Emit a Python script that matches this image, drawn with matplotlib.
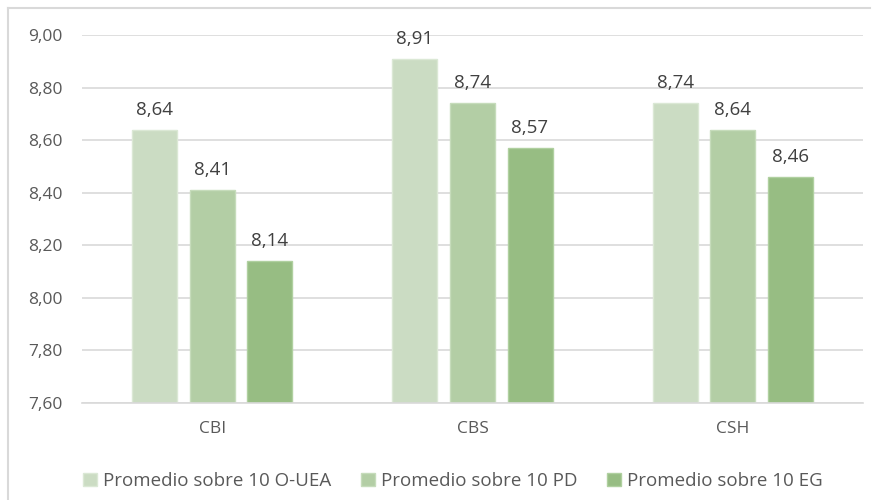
import matplotlib.pyplot as plt
import numpy as np
from matplotlib.lines import Line2D

# Data
categories = ['CBI', 'CBS', 'CSH']
series_names = ['Promedio sobre 10 O-UEA', 'Promedio sobre 10 PD', 'Promedio sobre 10 EG']
o_uea = [8.64, 8.91, 8.74]
pd_vals = [8.41, 8.74, 8.64]
eg = [8.14, 8.57, 8.46]
y_ticks = [7.60, 7.80, 8.00, 8.20, 8.40, 8.60, 8.80, 9.00]

colors = ['#cbdcc3', '#b3cea5', '#97bd83']
edges = ['#dbe8d5', '#c6dcbb', '#b0d0a0']

plt.rcParams['font.family'] = ['Open Sans', 'DejaVu Sans']

fig = plt.figure(figsize=(8.78, 5.0), dpi=100)
ax = fig.add_axes([82 / 878, 1 - 403 / 500, 781 / 878, 368 / 500])

x = np.arange(len(categories))
step = 0.221
width = 0.173
for i, vals in enumerate([o_uea, pd_vals, eg]):
    pos = x + (i - 1) * step
    bars = ax.bar(pos, vals, width, color=colors[i], edgecolor=edges[i],
                  linewidth=1, label=series_names[i], zorder=2)
    for b, v in zip(bars, vals):
        ax.annotate(f'{v:.2f}'.replace('.', ','), (b.get_x() + b.get_width() / 2, v),
                    xytext=(0, 8), textcoords='offset points', ha='center', va='bottom',
                    fontsize=13.5, color='#404040')

ax.set_ylim(7.6, 9.0)
ax.set_xlim(-0.5, 2.5)
ax.set_yticks(y_ticks)
ax.set_yticklabels([f'{t:.2f}'.replace('.', ',') for t in y_ticks])
ax.set_xticks(x)
ax.set_xticklabels(categories)
ax.tick_params(axis='y', length=0, pad=14, labelsize=12.5, labelcolor='#595959')
ax.tick_params(axis='x', length=0, pad=13, labelsize=12.5, labelcolor='#595959')
ax.grid(axis='y', color='#d9d9d9', linewidth=1.2, zorder=0)
ax.set_axisbelow(True)
for s in ['top', 'right', 'left']:
    ax.spines[s].set_visible(False)
ax.spines['bottom'].set_color('#d9d9d9')
ax.spines['bottom'].set_linewidth(1.2)

ax.legend(loc='center', bbox_to_anchor=(453 / 878, (500 - 481) / 500), bbox_transform=fig.transFigure,
          ncol=3, frameon=False, fontsize=13.5, labelcolor='#595959',
          handlelength=0.75, handleheight=0.75, handletextpad=0.3, columnspacing=1.6)

# chart frame (left and top edge visible)
fig.add_artist(Line2D([8 / 878, 8 / 878], [0, 1 - 8 / 500], color='#d9d9d9', linewidth=1.5))
fig.add_artist(Line2D([8 / 878, 870 / 878], [1 - 8 / 500, 1 - 8 / 500], color='#d9d9d9', linewidth=1.5))

plt.savefig('out.png', dpi=100)
